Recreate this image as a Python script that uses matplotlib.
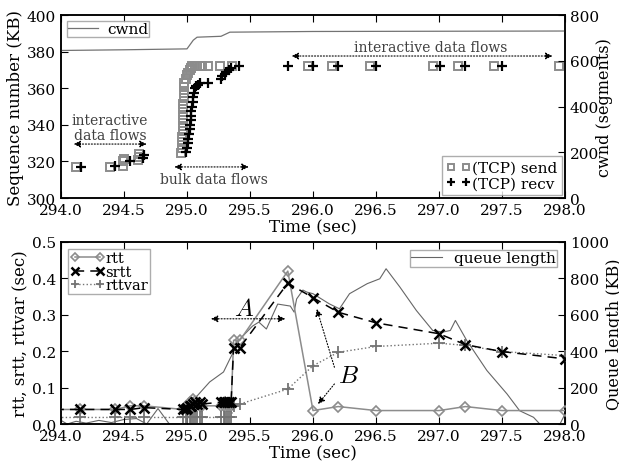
import matplotlib
matplotlib.use('Agg')
import matplotlib.pyplot as plt

plt.rcParams['font.family'] = 'DejaVu Serif'
plt.rcParams['mathtext.fontset'] = 'cm'
plt.rcParams['xtick.direction'] = 'in'
plt.rcParams['ytick.direction'] = 'in'
plt.rcParams['xtick.top'] = True
plt.rcParams['xtick.major.size'] = 5
plt.rcParams['ytick.major.size'] = 5
plt.rcParams['axes.linewidth'] = 1.1

# ---- top panel: sequence numbers and cwnd ----
send_t = [294.12, 294.39, 294.49, 294.49, 294.50, 294.61, 294.62, 294.62,
          294.955, 294.96, 294.96, 294.963, 294.965, 294.965, 294.968, 294.97,
          294.97, 294.972, 294.975, 294.975, 294.978, 294.98, 294.99, 295.0,
          295.01, 295.02, 295.03, 295.04, 295.06, 295.08, 295.10, 295.12,
          295.17, 295.26, 295.36,
          295.96, 296.15, 296.45, 296.95, 297.15, 297.44, 297.95]
send_seq = [317.2, 317.2, 317.5, 320.0, 321.5, 321.0, 322.5, 324.0,
            324.5, 327.5, 330.5, 333.5, 336.5, 339.5, 342.5, 345.5,
            348.5, 351.5, 354.5, 357.5, 360.5, 363.0, 365.0, 367.0,
            368.5, 370.0, 371.0, 372.0, 372.0, 372.0, 372.0, 372.0,
            372.0, 372.0, 372.0,
            372.0, 372.0, 372.0, 372.0, 372.0, 372.0, 372.0]

recv_t = [294.16, 294.43, 294.55, 294.65, 294.66,
          294.995, 295.0, 295.005, 295.01, 295.015, 295.02, 295.022, 295.028,
          295.03, 295.035, 295.04, 295.045, 295.05, 295.055, 295.06, 295.07,
          295.085, 295.10, 295.17, 295.27, 295.28, 295.30, 295.31, 295.33,
          295.35, 295.41,
          295.80, 296.0, 296.2, 296.5, 297.01, 297.21, 297.5]
recv_seq = [317.2, 317.5, 320.5, 322.0, 323.5,
            325.0, 327.5, 330.0, 332.5, 335.0, 337.5, 340.0, 342.5,
            345.0, 347.5, 350.0, 352.5, 355.0, 357.5, 360.0, 361.0,
            362.0, 363.0, 363.0, 365.0, 366.5, 368.0, 369.0, 370.0,
            371.0, 372.0,
            372.0, 372.0, 372.0, 372.0, 372.0, 372.0, 372.0]

cwnd_t = [294.0, 294.5, 295.0, 295.05, 295.08, 295.27, 295.34, 296.0, 298.0]
cwnd = [645, 648, 652, 690, 703, 707, 725, 728, 730]

# ---- bottom panel: rtt estimates and queue length ----
rtt_t = [293.95, 294.15, 294.43, 294.55, 294.66, 294.97, 294.99, 295.00, 295.02,
         295.03, 295.05, 295.06, 295.08, 295.10, 295.12, 295.27, 295.29,
         295.30, 295.32, 295.33, 295.35, 295.37, 295.42, 295.80, 296.00,
         296.20, 296.50, 297.00, 297.21, 297.50, 298.00]
rtt = [0.04, 0.04, 0.04, 0.05, 0.05, 0.04, 0.05, 0.04, 0.06, 0.05, 0.07, 0.05,
       0.06, 0.05, 0.05, 0.05, 0.05, 0.06, 0.05, 0.05, 0.05, 0.23, 0.23,
       0.42, 0.037, 0.048, 0.037, 0.037, 0.048, 0.037, 0.037]
srtt = [0.04, 0.04, 0.04, 0.04, 0.045, 0.04, 0.04, 0.045, 0.05, 0.05, 0.055,
        0.06, 0.055, 0.06, 0.055, 0.06, 0.06, 0.06, 0.06, 0.06, 0.06, 0.21,
        0.21, 0.387, 0.347, 0.307, 0.278, 0.248, 0.218, 0.199, 0.179]
rttvar = [0.018, 0.018, 0.018, 0.018, 0.018, 0.018, 0.018, 0.018, 0.018,
          0.018, 0.018, 0.018, 0.018, 0.018, 0.018, 0.018, 0.018, 0.018,
          0.018, 0.018, 0.018, 0.05, 0.055, 0.096, 0.16, 0.197, 0.213,
          0.222, 0.216, 0.199, 0.188]

queue_t = [294.00, 294.05, 294.12, 294.20, 294.30, 294.40, 294.50, 294.60,
           294.68, 294.77, 294.86, 295.00, 295.02, 295.08, 295.18, 295.29,
           295.34, 295.42, 295.52, 295.57, 295.63, 295.72, 295.82, 295.85,
           295.87, 295.92, 295.95, 296.00, 296.13, 296.21, 296.29, 296.43,
           296.53, 296.58, 296.69, 296.82, 296.95, 297.03, 297.09, 297.13,
           297.22, 297.38, 297.54, 297.64, 297.75, 297.80, 297.96, 298.00]
queue = [20, 0, 15, 5, 20, 8, 25, 30,
         0, 85, 0, 0, 140, 154, 231, 286,
         357, 467, 538, 560, 522, 659, 648, 615,
         687, 736, 725, 716, 660, 633, 716, 771,
         798, 853, 752, 624, 514, 505, 514, 569,
         459, 294, 165, 73, 37, 0, 0, 55]

xticks = [294.0, 294.5, 295.0, 295.5, 296.0, 296.5, 297.0, 297.5, 298.0]

fig = plt.figure(figsize=(6.19, 4.64), dpi=100)
fs = 11
lab = 12

# ================= top =================
ax1 = fig.add_axes([0.0985, 0.571, 0.8143, 0.3945])
ax1r = ax1.twinx()

ax1.plot(send_t, send_seq, linestyle='none', marker='s', markersize=6,
         markerfacecolor='none', markeredgecolor='0.55', markeredgewidth=1.4,
         label='(TCP) send')
ax1.plot(recv_t, recv_seq, linestyle='none', marker='+', markersize=7.5,
         color='k', markeredgewidth=1.6, label='(TCP) recv')
ax1r.plot(cwnd_t, cwnd, color='0.45', lw=0.9, label='cwnd')

ax1.set_xlim(294.0, 298.0)
ax1.set_ylim(300, 400)
ax1r.set_ylim(0, 800)
ax1.set_xticks(xticks)
ax1.set_yticks(range(300, 401, 20))
ax1r.set_yticks(range(0, 801, 200))
ax1.tick_params(labelsize=fs)
ax1r.tick_params(labelsize=fs, direction='in')
ax1.set_xlabel('Time (sec)', fontsize=lab, labelpad=1)
ax1.set_ylabel('Sequence number (KB)', fontsize=lab, labelpad=2)
ax1r.set_ylabel('cwnd (segments)', fontsize=11.5, labelpad=-2)

leg = ax1.legend(loc='lower right', numpoints=2, fontsize=fs, borderpad=0.3,
                 labelspacing=0.1, handletextpad=0.1, handlelength=1.6,
                 markerscale=0.7, borderaxespad=0.2, fancybox=False)
leg.get_frame().set_edgecolor('0.6')
leg = ax1r.legend(loc='upper left', fontsize=fs, borderpad=0.05,
                  handletextpad=0.6, borderaxespad=0.4, fancybox=False)
leg.get_frame().set_edgecolor('0.6')

arr = dict(arrowstyle='<|-|>', linestyle=':', color='k', lw=0.8,
           mutation_scale=10, shrinkA=0, shrinkB=0)
ax1.annotate('', xy=(294.1, 329.5), xytext=(294.68, 329.5), arrowprops=arr)
ax1.text(294.39, 338.5, 'interactive\ndata flows', ha='center', va='center',
         fontsize=10, color='0.25', linespacing=1.05)
ax1.annotate('', xy=(294.9, 317), xytext=(295.49, 317), arrowprops=arr)
ax1.text(295.21, 310.4, 'bulk data flows', ha='center', va='center',
         fontsize=10, color='0.25')
ax1.annotate('', xy=(295.83, 377.6), xytext=(297.9, 377.6), arrowprops=arr)
ax1.text(296.93, 382.7, 'interactive data flows', ha='center', va='center',
         fontsize=10, color='0.25')

# ================= bottom =================
ax2 = fig.add_axes([0.0985, 0.084, 0.8143, 0.3923])
ax2r = ax2.twinx()

ax2r.plot(queue_t, queue, color='0.4', lw=0.8, label='queue length')
ax2.plot(rtt_t, rtt, color='0.55', lw=1.1, marker='D', markersize=5.5,
         markerfacecolor='none', markeredgecolor='0.55', markeredgewidth=1.2,
         label='rtt', zorder=3)
ax2.plot(rtt_t, srtt, color='k', lw=1.1, linestyle=(0, (6, 4)), marker='x',
         markersize=7, markeredgewidth=1.8, label='srtt', zorder=4)
ax2.plot(rtt_t, rttvar, color='0.45', lw=1.0, linestyle=':', marker='+',
         markersize=8, markeredgewidth=1.3, label='rttvar', zorder=3)
ax2.set_zorder(ax2r.get_zorder() + 1)
ax2.patch.set_visible(False)

ax2.set_xlim(294.0, 298.0)
ax2.set_ylim(0, 0.5)
ax2r.set_ylim(0, 1000)
ax2.set_xticks(xticks)
ax2.set_yticks([0.0, 0.1, 0.2, 0.3, 0.4, 0.5])
ax2r.set_yticks(range(0, 1001, 200))
ax2.tick_params(labelsize=fs)
ax2r.tick_params(labelsize=fs, direction='in')
ax2.set_xlabel('Time (sec)', fontsize=lab, labelpad=1)
ax2.set_ylabel('rtt, srtt, rttvar (sec)', fontsize=lab, labelpad=2)
ax2r.set_ylabel('Queue length (KB)', fontsize=11.5, labelpad=-2)

leg = ax2.legend(loc='upper left', numpoints=2, fontsize=10.5, borderpad=0.15,
                 labelspacing=-0.05, handletextpad=0.1, handlelength=2.3,
                 markerscale=0.8, borderaxespad=0.5, fancybox=False)
leg.get_frame().set_edgecolor('0.6')
leg = ax2r.legend(loc='upper right', fontsize=fs, borderpad=0.1,
                  handletextpad=0.8, borderaxespad=0.5, fancybox=False)
leg.get_frame().set_edgecolor('0.6')

ax2.annotate('', xy=(295.19, 0.289), xytext=(295.78, 0.289), arrowprops=arr)
ax2.text(295.45, 0.316, '$A$', ha='center', va='center', fontsize=18)
ax2.text(296.28, 0.133, '$B$', ha='center', va='center', fontsize=18)
arr1 = dict(arrowstyle='-|>', linestyle=':', color='k', lw=0.8,
            mutation_scale=10, shrinkA=0, shrinkB=0)
ax2.annotate('', xy=(296.03, 0.316), xytext=(296.17, 0.156), arrowprops=arr1)
ax2.annotate('', xy=(296.04, 0.055), xytext=(296.17, 0.11), arrowprops=arr1)

fig.savefig('out.png', dpi=100)
